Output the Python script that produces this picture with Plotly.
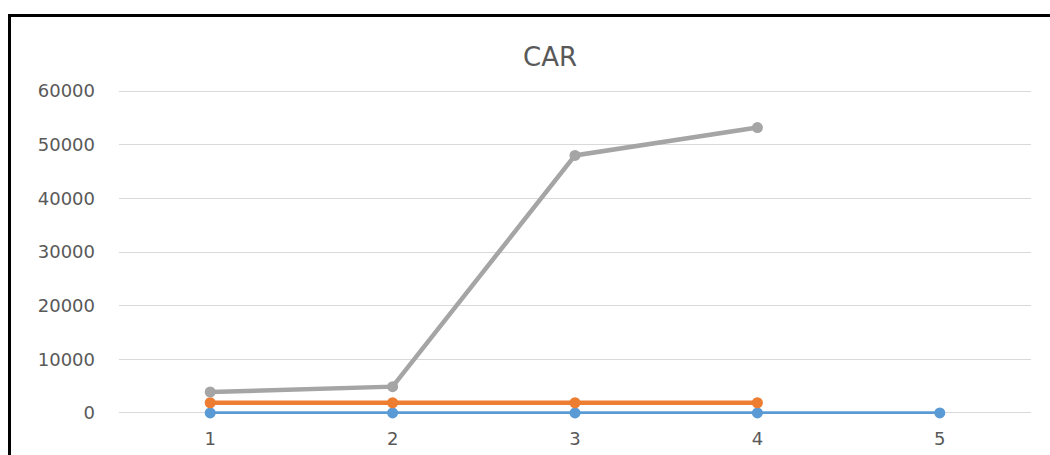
import plotly.graph_objects as go

categories = [1, 2, 3, 4, 5]
series1 = [0, 0, 0, 0, 0]
series2 = [1900, 1900, 1900, 1900]
series3 = [3900, 4900, 48000, 53200]
series_names = ["Series1", "Series2", "Series3"]
y_ticks = [0, 10000, 20000, 30000, 40000, 50000, 60000]
y_tick_labels = ["0", "10000", "20000", "30000", "40000", "50000", "60000"]
title_text = "CAR"

W, H = 1050, 455
pad_v = 200.0
ymin, ymax = -pad_v, 60000 + pad_v
px_per_unit = 322.0 / 60000
L, R = 119, 19
T = 91 - pad_v * px_per_unit
B = 42 - pad_v * px_per_unit

fig = go.Figure()
fig.add_trace(go.Scatter(x=categories, y=series1, name=series_names[0], mode="lines+markers",
                         line=dict(color="#5B9BD5", width=3.5), marker=dict(size=11, color="#5B9BD5"),
                         cliponaxis=False))
fig.add_trace(go.Scatter(x=categories[:len(series2)], y=series2, name=series_names[1], mode="lines+markers",
                         line=dict(color="#ED7D31", width=4.5), marker=dict(size=11, color="#ED7D31"),
                         cliponaxis=False))
fig.add_trace(go.Scatter(x=categories[:len(series3)], y=series3, name=series_names[2], mode="lines+markers",
                         line=dict(color="#A5A5A5", width=4.5), marker=dict(size=11, color="#A5A5A5"),
                         cliponaxis=False))

pw = W - L - R
ph = H - T - B
fig.add_shape(type="rect", xref="paper", yref="paper",
              x0=(9.5 - L) / pw, x1=2.0, y0=-1.0, y1=(H - B - 15.3) / ph,
              line=dict(color="black", width=3), fillcolor="rgba(0,0,0,0)", layer="above")

fig.update_layout(
    width=W, height=H,
    margin=dict(l=L, r=R, t=T, b=B, pad=0, autoexpand=False),
    paper_bgcolor="white", plot_bgcolor="white",
    showlegend=False,
    title=dict(text=title_text, x=(550 - L) / pw, xref="paper", xanchor="center",
               y=1 - 57 / H, yanchor="middle",
               font=dict(family="DejaVu Sans", size=26, color="#595959")),
    font=dict(family="DejaVu Sans", size=18, color="#595959"),
)
fig.update_xaxes(range=[0.5, 5.5], tickvals=categories, showgrid=False, zeroline=False,
                 showline=False, ticks="", ticklabelstandoff=12, automargin=False,
                 tickfont=dict(family="DejaVu Sans", size=18, color="#595959"))
fig.update_yaxes(range=[ymin, ymax], tickvals=y_ticks, ticktext=y_tick_labels, showgrid=True,
                 gridcolor="#D9D9D9", gridwidth=1.2, automargin=False,
                 zeroline=False, showline=False, ticks="", ticklabelstandoff=23,
                 tickfont=dict(family="DejaVu Sans", size=18, color="#595959"))

fig.write_html("out.html")
